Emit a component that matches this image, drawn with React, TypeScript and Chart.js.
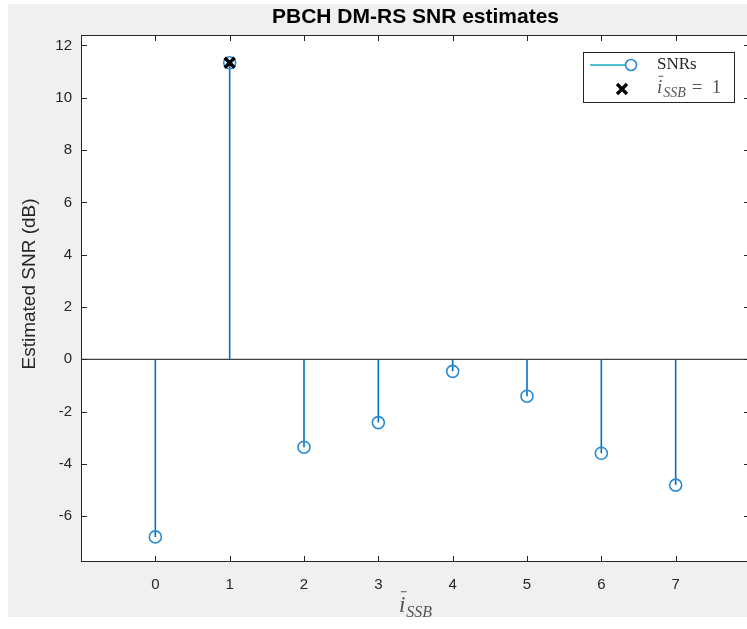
import React, { useEffect, useRef } from "react";
import { Chart, registerables } from "chart.js";

Chart.register(...registerables);

const xValues = [0, 1, 2, 3, 4, 5, 6, 7];
const snrValues = [-6.79, 11.34, -3.36, -2.42, -0.46, -1.41, -3.59, -4.81];
const selectedIndex = 1;
const xTicks = [0, 1, 2, 3, 4, 5, 6, 7];
const yTicks = [-6, -4, -2, 0, 2, 4, 6, 8, 10, 12];
const titleText = "PBCH DM-RS SNR estimates";
const yLabelText = "Estimated SNR (dB)";
const legendSeriesLabel = "SNRs";

const STEM = "#0072BD";
const MARK = "#2a8ad4";
const AX = "#262626";
const SANS = '"Liberation Sans", Arial, Helvetica, sans-serif';
const SERIF = '"Liberation Serif", "Times New Roman", serif';

const CW = 760;
const CH = 613;

function measureIBar(ctx: CanvasRenderingContext2D, size: number, subSize: number) {
  ctx.save();
  ctx.font = `italic ${size}px ${SERIF}`;
  const iw = ctx.measureText("i").width;
  ctx.font = `italic ${subSize}px ${SERIF}`;
  const sw = ctx.measureText("SSB").width;
  ctx.restore();
  return iw + 1 + sw;
}

function drawIBar(ctx: CanvasRenderingContext2D, x: number, y: number, size: number, subSize: number) {
  ctx.save();
  ctx.textBaseline = "alphabetic";
  ctx.textAlign = "left";
  ctx.fillStyle = "#555";
  ctx.font = `italic ${size}px ${SERIF}`;
  ctx.fillText("i", x, y);
  const iw = ctx.measureText("i").width;
  ctx.strokeStyle = "#555";
  ctx.lineWidth = 1;
  ctx.beginPath();
  ctx.moveTo(x + iw * 0.3, y - size * 0.88);
  ctx.lineTo(x + iw * 1.2, y - size * 0.88);
  ctx.stroke();
  ctx.font = `italic ${subSize}px ${SERIF}`;
  ctx.fillText("SSB", x + iw + 1, y + size * 0.22);
  const sw = ctx.measureText("SSB").width;
  ctx.restore();
  return iw + 1 + sw;
}

const matlabPlugin = {
  id: "matlabLook",
  beforeDraw(chart: any) {
    const { ctx, chartArea: a, width, height } = chart;
    ctx.save();
    ctx.fillStyle = "#f0f0f0";
    ctx.fillRect(0, 0, width, height);
    ctx.fillStyle = "#ffffff";
    ctx.fillRect(a.left, a.top, a.right - a.left, a.bottom - a.top);
    ctx.restore();
  },
  beforeDatasetsDraw(chart: any) {
    const { ctx, chartArea: a, scales } = chart;
    const y0 = scales.y.getPixelForValue(0);
    ctx.save();
    ctx.strokeStyle = "#404040";
    ctx.lineWidth = 1.2;
    ctx.beginPath();
    ctx.moveTo(a.left, y0);
    ctx.lineTo(a.right, y0);
    ctx.stroke();
    ctx.restore();
  },
  afterDraw(chart: any) {
    const { ctx, chartArea: a, scales } = chart;
    ctx.save();
    ctx.strokeStyle = AX;
    ctx.lineWidth = 1;
    ctx.strokeRect(a.left + 0.5, a.top + 0.5, a.right - a.left - 1, a.bottom - a.top - 1);
    const tl = 6;
    ctx.beginPath();
    xTicks.forEach((v) => {
      const px = Math.round(scales.x.getPixelForValue(v)) + 0.5;
      ctx.moveTo(px, a.bottom);
      ctx.lineTo(px, a.bottom - tl);
      ctx.moveTo(px, a.top);
      ctx.lineTo(px, a.top + tl);
    });
    yTicks.forEach((v) => {
      const py = Math.round(scales.y.getPixelForValue(v)) + 0.5;
      ctx.moveTo(a.left, py);
      ctx.lineTo(a.left + tl, py);
      ctx.moveTo(a.right, py);
      ctx.lineTo(a.right - tl, py);
    });
    ctx.stroke();

    // title
    const cx = (a.left + a.right) / 2;
    ctx.fillStyle = "#000";
    ctx.font = `bold 21px ${SANS}`;
    ctx.textAlign = "center";
    ctx.textBaseline = "middle";
    ctx.fillText(titleText, cx, 13);

    // y label
    ctx.save();
    ctx.translate(22, 280);
    ctx.rotate(-Math.PI / 2);
    ctx.fillStyle = AX;
    ctx.font = `19px ${SANS}`;
    ctx.textAlign = "center";
    ctx.textBaseline = "middle";
    ctx.fillText(yLabelText, 0, 0);
    ctx.restore();

    // x label
    const total = measureIBar(ctx, 23, 16);
    drawIBar(ctx, cx - total / 2, a.bottom + 50, 23, 16);

    // legend
    const lx = a.right - 167;
    const ly = a.top + 17;
    const lw = 151;
    const lh = 50;
    ctx.fillStyle = "#fff";
    ctx.fillRect(lx, ly, lw, lh);
    ctx.strokeStyle = AX;
    ctx.lineWidth = 1;
    ctx.strokeRect(lx + 0.5, ly + 0.5, lw, lh);
    const r1 = ly + 13;
    const r2 = ly + 37;
    ctx.strokeStyle = "#4fc3d0";
    ctx.lineWidth = 2;
    ctx.beginPath();
    ctx.moveTo(lx + 7, r1);
    ctx.lineTo(lx + 48, r1);
    ctx.stroke();
    ctx.strokeStyle = MARK;
    ctx.lineWidth = 1.6;
    ctx.beginPath();
    ctx.arc(lx + 48, r1, 5.5, 0, Math.PI * 2);
    ctx.fillStyle = "#fff";
    ctx.fill();
    ctx.stroke();
    ctx.fillStyle = AX;
    ctx.font = `17px ${SERIF}`;
    ctx.textAlign = "left";
    ctx.textBaseline = "middle";
    ctx.fillText(legendSeriesLabel, lx + 74, r1);
    ctx.strokeStyle = "#000";
    ctx.lineWidth = 3.2;
    const mx = lx + 39;
    ctx.beginPath();
    ctx.moveTo(mx - 5, r2 - 5);
    ctx.lineTo(mx + 5, r2 + 5);
    ctx.moveTo(mx + 5, r2 - 5);
    ctx.lineTo(mx - 5, r2 + 5);
    ctx.stroke();
    const w = drawIBar(ctx, lx + 74, r2 + 4, 19, 14);
    ctx.fillStyle = "#555";
    ctx.font = `19px ${SERIF}`;
    ctx.textBaseline = "alphabetic";
    ctx.fillText("=", lx + 74 + w + 6, r2 + 4);
    ctx.fillText(String(xValues[selectedIndex]), lx + 74 + w + 26, r2 + 4);
    ctx.restore();
  },
};

export default function App() {
  const ref = useRef<HTMLCanvasElement | null>(null);
  useEffect(() => {
    if (!ref.current) return;
    const stems = xValues.map((x, i) => ({
      type: "line" as const,
      data: [
        { x, y: 0 },
        { x, y: snrValues[i] },
      ],
      borderColor: STEM,
      borderWidth: 1.6,
      pointRadius: 0,
      showLine: true,
      order: 3,
    }));
    const chart = new Chart(ref.current, {
      type: "scatter",
      data: {
        datasets: [
          {
            data: [{ x: xValues[selectedIndex], y: snrValues[selectedIndex] }],
            pointStyle: "crossRot",
            pointRadius: 7,
            borderColor: "#000",
            borderWidth: 3.5,
            order: 0,
          } as any,
          {
            data: xValues.map((x, i) => ({ x, y: snrValues[i] })),
            pointStyle: "circle",
            pointRadius: 6,
            borderColor: MARK,
            backgroundColor: "rgba(0,0,0,0)",
            borderWidth: 1.6,
            order: 1,
          } as any,
          ...stems,
        ],
      },
      options: {
        responsive: false,
        maintainAspectRatio: false,
        animation: false,
        devicePixelRatio: 1,
        layout: { padding: { top: 31, right: CW - 742, left: 0, bottom: 0 } },
        plugins: { legend: { display: false }, tooltip: { enabled: false }, title: { display: false } },
        scales: {
          x: {
            type: "linear",
            min: -1,
            max: 8,
            offset: false,
            grid: { display: false, drawTicks: false },
            border: { display: false },
            afterBuildTicks: (s: any) => {
              s.ticks = xTicks.map((v) => ({ value: v }));
            },
            afterFit: (s: any) => {
              s.height = 55;
            },
            ticks: {
              color: AX,
              font: { family: SANS, size: 15 },
              padding: 14,
              maxRotation: 0,
              autoSkip: false,
              callback: (v: any) => String(v),
            },
          },
          y: {
            type: "linear",
            min: -7.75,
            max: 12.4,
            grid: { display: false, drawTicks: false },
            border: { display: false },
            afterBuildTicks: (s: any) => {
              s.ticks = yTicks.map((v) => ({ value: v }));
            },
            afterFit: (s: any) => {
              s.width = 73;
            },
            ticks: {
              color: AX,
              font: { family: SANS, size: 15 },
              padding: 9,
              autoSkip: false,
              callback: (v: any) => String(v),
            },
          },
        },
      },
      plugins: [matlabPlugin],
    } as any);
    return () => chart.destroy();
  }, []);
  return (
    <div
      style={{
        position: "fixed",
        left: 0,
        top: 0,
        width: 747,
        height: 629,
        overflow: "hidden",
        background: "#fff",
      }}
    >
      <div style={{ position: "absolute", left: 8, top: 4, width: CW, height: CH }}>
        <canvas ref={ref} width={CW} height={CH} style={{ display: "block", width: CW, height: CH }} />
      </div>
    </div>
  );
}
